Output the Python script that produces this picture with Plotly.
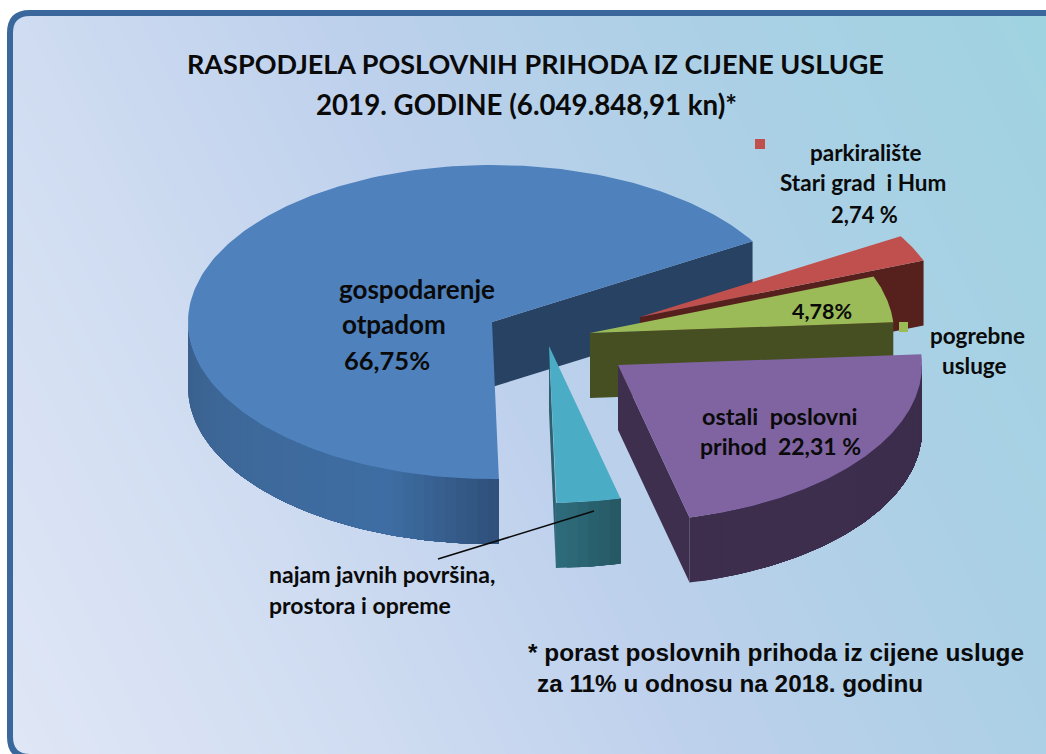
import numpy as np
import plotly.graph_objects as go

# ---- data ----
categories = ["gospodarenje otpadom", "najam javnih površina, prostora i opreme",
              "ostali poslovni prihod", "pogrebne usluge", "parkiralište Stari grad i Hum"]
values = [66.75, 3.42, 22.31, 4.78, 2.74]

# ---- style ----
W, H = 1046, 754
START = 31.0            # degrees, counter-clockwise from east
RX, RY, DEPTH = 304, 157, 65
apex = [(492, 322), (549, 346), (618, 365), (590, 333), (640, 317)]
top_col = ["#4f81bd", "#4bacc6", "#8064a2", "#9bbb59", "#c0504d"]
face_col = ["#274263", "#2b6170", "#3f2f4f", "#454f21", "#56201c"]
wall_stops = [
    [(180, "#3a5f8c"), (205, "#3d6797"), (250, "#3f6ea4"), (272, "#2e4f78")],
    [(270, "#2f7080"), (285, "#265560")],
    [(280, "#3f2f4f"), (365, "#3c2d4c")],
    [(0, "#454f21"), (30, "#454f21")],
    [(0, "#56201c"), (40, "#56201c")],
]
draw_order = [0, 4, 3, 1, 2]
FONT = "Lato"


def hex2rgb(h):
    return np.array([int(h[i:i + 2], 16) for i in (1, 3, 5)], float)


def stop_color(stops, t):
    xs = [s[0] for s in stops]
    cs = np.array([hex2rgb(s[1]) for s in stops])
    c = [np.interp(t, xs, cs[:, k]) for k in range(3)]
    return "rgb(%d,%d,%d)" % tuple(c)


def rim(c, t):
    r = np.radians(t)
    return c[0] + RX * np.cos(r), c[1] - RY * np.sin(r)


def poly(xs, ys, color):
    return go.Scatter(x=list(xs), y=list(ys), mode="lines", fill="toself",
                      fillcolor=color, line=dict(color=color, width=0),
                      hoverinfo="skip", showlegend=False)


fig = go.Figure()

# background gradient
gx = np.linspace(-5, W + 5, 40)
gy = np.linspace(-5, H + 5, 30)
GX, GY = np.meshgrid(gx, gy)
G = (GX + (H - GY) * 0.5) / (W + H * 0.5)
fig.add_trace(go.Heatmap(
    x=gx, y=gy, z=G, zmin=0, zmax=1, zsmooth="best", showscale=False, hoverinfo="skip",
    colorscale=[[0, "#e0e7f6"], [0.27, "#cfdcf1"], [0.5, "#bdd0ec"], [0.75, "#abd0e6"], [1, "#9fd3e0"]]))

# slices
edges = START + np.cumsum([0] + values) * 3.6
for i in draw_order:
    t0, t1 = edges[i], edges[i + 1]
    c = apex[i]
    # straight cut faces
    for t, normal in ((t0, t0 - 90), (t1, t1 + 90)):
        if np.sin(np.radians(normal)) < 0:
            x, y = rim(c, t)
            fig.add_trace(poly([c[0], x, x, c[0], c[0]],
                               [c[1], y, y + DEPTH, c[1] + DEPTH, c[1]], face_col[i]))
    # outer wall, painted left to right with each band running on to the end of the wall
    for k in (-360, 0, 360):
        a, b = max(t0 + k, 180), min(t1 + k, 360)
        if b > a:
            cuts = np.linspace(a, b, max(2, int((b - a) / 2) + 1))
            for u, v in zip(cuts[:-1], cuts[1:]):
                tt = np.linspace(u, b, max(4, int(b - u) + 2))
                xu, yu = rim(c, tt)
                fig.add_trace(poly(np.r_[xu, xu[::-1]], np.r_[yu, yu[::-1] + DEPTH],
                                   stop_color(wall_stops[i], (u + v) / 2)))
    # top surface
    tt = np.linspace(t0, t1, 200)
    xu, yu = rim(c, tt)
    fig.add_trace(poly(np.r_[c[0], xu, c[0]], np.r_[c[1], yu, c[1]], top_col[i]))


def text(x, y, s, size=20, font=FONT, bold=True):
    fig.add_annotation(x=x, y=y, text=f"<b>{s}</b>" if bold else s, showarrow=False,
                       xanchor="center", yanchor="middle",
                       font=dict(family=font, size=size, color="#0a0a0a"))


text(535, 63, "RASPODJELA POSLOVNIH PRIHODA IZ CIJENE USLUGE", 27)
text(526, 104, "2019. GODINE (6.049.848,91 kn)*", 27.7)
text(417, 289, "gospodarenje", 26)
text(394, 324, "otpadom", 26)
text(387, 360, "66,75%", 25.5)
text(866, 152, "parkiralište", 22.5)
text(863, 182, "Stari grad  i Hum", 22.5)
text(864, 214, "2,74 %", 22)
text(822, 311, "4,78%", 21.5)
text(977, 335, "pogrebne", 22.5)
text(974, 365, "usluge", 22.5)
text(780, 416, "ostali  poslovni", 23.5)
text(780, 446, "prihod  22,31 %", 23)
text(382, 574, "najam javnih površina,", 23)
text(360, 605, "prostora i opreme", 23)
text(776, 652, "* porast poslovnih prihoda iz cijene usluge", 24.4, "Liberation Sans")
text(730, 683, "za 11% u odnosu na 2018. godinu", 24.3, "Liberation Sans")

# white outside the frame, frame, legend keys, leader line
L, T, R, B, r = 10, 13, W + 20, H + 3, 20
inner = (f"M{L},{T + r} Q{L},{T} {L + r},{T} H{R} V{B} H{L + r} Q{L},{B} {L},{B - r} Z")
shapes = [
    dict(type="path", path=f"M-5,-5 H{W + 5} V{H + 5} H-5 Z " + inner, fillcolor="white",
         fillrule="evenodd", line=dict(width=0), layer="above"),
    dict(type="path", path=inner, line=dict(color="#3a689c", width=6), layer="above"),
    dict(type="rect", x0=755, x1=765, y0=139, y1=149, fillcolor="#c0504d", line=dict(width=0)),
    dict(type="rect", x0=899, x1=908, y0=322, y1=332, fillcolor="#9bbb59", line=dict(width=0)),
    dict(type="line", x0=594, y0=511, x1=438, y1=559, line=dict(color="#0a0a0a", width=1.5)),
]
fig.update_layout(
    width=W, height=H, margin=dict(l=0, r=0, t=0, b=0), shapes=shapes,
    paper_bgcolor="white", plot_bgcolor="white", showlegend=False,
    xaxis=dict(range=[0, W], visible=False, fixedrange=True),
    yaxis=dict(range=[H, 0], visible=False, fixedrange=True),
)
fig.write_html("out.html", config={"displayModeBar": False},
               post_script="document.body.style.margin='0';document.body.style.overflow='hidden';")
